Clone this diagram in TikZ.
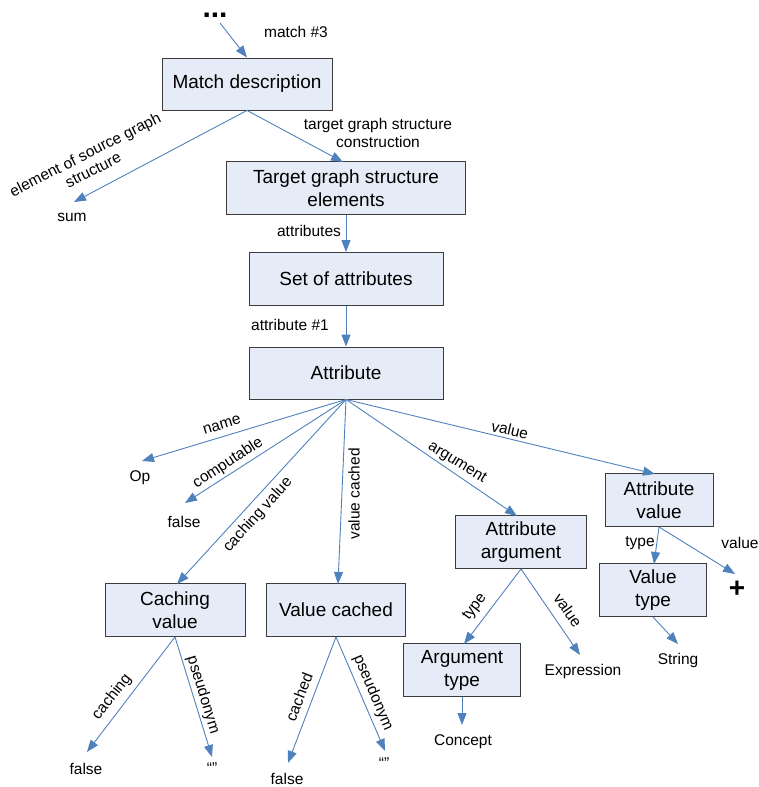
\documentclass[tikz,border=0pt]{standalone}
\usepackage{fontspec}
\setmainfont{Liberation Sans}
\usetikzlibrary{arrows.meta}
\definecolor{edgeblue}{RGB}{79,129,189}
\definecolor{boxfill}{RGB}{230,236,247}
\definecolor{boxline}{RGB}{60,60,60}
\begin{document}
\begin{tikzpicture}[x=1pt,y=-1pt,
  box/.style={draw=boxline, fill=boxfill, line width=0.9pt, align=center,
    inner sep=0pt, font=\fontsize{19}{23}\selectfont},
  lbl/.style={inner sep=0pt, align=center, font=\fontsize{15.5}{17.5}\selectfont},
  conn/.style={draw=edgeblue, line width=0.9pt, -{Triangle[length=12pt,width=9pt]}}]
\useasboundingbox (0,0) rectangle (759,787);

% boxes
\node[box, minimum width=170pt, minimum height=52pt] (md)  at (247,84)  {Match description};
\node[box, minimum width=239pt, minimum height=53pt] (tgs) at (346,188) {Target graph structure\\elements};
\node[box, minimum width=194pt, minimum height=53pt] (soa) at (346,279) {Set of attributes};
\node[box, minimum width=194pt, minimum height=52pt] (att) at (346,373) {Attribute};
\node[box, minimum width=140pt, minimum height=53pt] (cv)  at (175,610) {Caching\\value};
\node[box, minimum width=139pt, minimum height=53pt] (vc)  at (336,610) {Value cached};
\node[box, minimum width=131pt, minimum height=53pt] (aa)  at (521,542) {Attribute\\argument};
\node[box, minimum width=108pt, minimum height=53pt] (av)  at (659,500) {Attribute\\value};
\node[box, minimum width=107pt, minimum height=53pt] (vt)  at (653,590) {Value\\type};
\node[box, minimum width=117pt, minimum height=53pt] (at)  at (462,670) {Argument\\type};

% leaf values
\node[anchor=base, inner sep=0pt, text height=6pt, text depth=0pt,
      font=\fontsize{30}{30}\selectfont\bfseries] (dots) at (215,17) {...};
\node[lbl] (sum)   at (72,217)  {sum};
\node[lbl] (op)    at (140,478) {Op};
\node[lbl] (f1)    at (184,522) {false};
\node[lbl] (f2)    at (86,769)  {false};
\node[lbl] (q1)    at (212,768) {“”};
\node[lbl] (f3)    at (287,779) {false};
\node[lbl] (q2)    at (384,763) {“”};
\node[lbl] (expr)  at (583,671) {Expression};
\node[lbl] (conc)  at (463,742) {Concept};
\node[lbl] (str)   at (678,660) {String};
\node[inner sep=0pt, font=\fontsize{28}{28}\selectfont\bfseries] (plus) at (737,589) {+};

% arrow tips above the leaf values
\coordinate (dotsout) at (220,23);
\coordinate (sumtip)  at (74,202);
\coordinate (optip)   at (142,461);
\coordinate (f1tip)   at (185,503);
\coordinate (f2tip)   at (87,752);
\coordinate (q1tip)   at (212,757);
\coordinate (f3tip)   at (288,763);
\coordinate (q2tip)   at (385,751);
\coordinate (exprtip) at (580,655);
\coordinate (conctip) at (462,725);
\coordinate (strtip)  at (678,644);
\coordinate (plustip) at (735,574);

% connectors
\draw[conn] (dotsout) -- (md.north);
\draw[conn] (md.south) -- (sumtip);
\draw[conn] (md.south) -- (343,162) coordinate (tgstop);
\draw[conn] (tgs.south) -- (soa.north);
\draw[conn] (soa.south) -- (att.north);
\draw[conn] (att.south) -- (optip);
\draw[conn] (att.south) -- (f1tip);
\draw[conn] (att.south) -- (177,584) coordinate (cvtop);
\draw[conn] (att.south) -- (338,584) coordinate (vctop);
\draw[conn] (att.south) -- (517,516) coordinate (aatop);
\draw[conn] (att.south) -- (655,474) coordinate (avtop);
\draw[conn] (cv.south) -- (f2tip);
\draw[conn] (cv.south) -- (q1tip);
\draw[conn] (vc.south) -- (f3tip);
\draw[conn] (vc.south) -- (q2tip);
\draw[conn] (aa.south) -- (464,644) coordinate (attop);
\draw[conn] (aa.south) -- (exprtip);
\draw[conn] (at.south) -- (conctip);
\draw[conn] (av.south) -- (654,564) coordinate (vttop);
\draw[conn] (av.south) -- (plustip);
\draw[conn] (vt.south) -- (strtip);

% connector labels
\node[lbl] at (296,32) {match \#3};
\node[lbl, rotate=27] at (89,162) {element of source graph\\structure};
\node[lbl] at (378,133) {target graph structure\\construction};
\node[lbl] at (309,231) {attributes};
\node[lbl] at (290,325) {attribute \#1};
\node[lbl, rotate=17] at (222,425) {name};
\node[lbl, rotate=33] at (228,463) {computable};
\node[lbl, rotate=48] at (258,515) {caching value};
\node[lbl, rotate=90] at (354,494) {value cached};
\node[lbl, rotate=-32] at (457,463) {argument};
\node[lbl, rotate=-13] at (510,430) {value};
\node[lbl, rotate=52] at (112,697) {caching};
\node[lbl, rotate=-73] at (203,695) {pseudonym};
\node[lbl, rotate=69] at (299,697) {cached};
\node[lbl, rotate=-67] at (373,693) {pseudonym};
\node[lbl, rotate=53] at (475,607) {type};
\node[lbl, rotate=-55] at (568,610) {value};
\node[lbl] at (640,543) {type};
\node[lbl] at (740,543) {value};
\end{tikzpicture}
\end{document}
